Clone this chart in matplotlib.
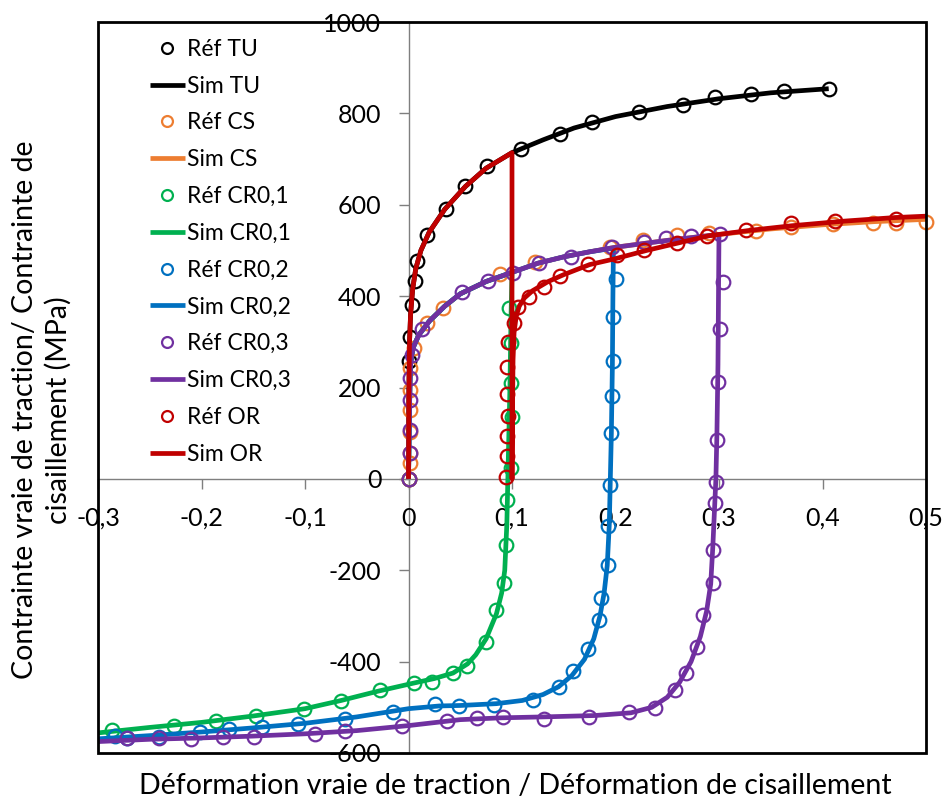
import matplotlib
matplotlib.use("Agg")
import matplotlib.pyplot as plt
from matplotlib.patches import Rectangle
from matplotlib.ticker import FuncFormatter

plt.rcParams['font.family'] = ['Lato', 'DejaVu Sans']

# ---------------- data ----------------
tu_ref_x = [0, 0.0003, 0.001, 0.0036, 0.0058, 0.0084, 0.018, 0.036, 0.0547, 0.0754, 0.1087,
            0.146, 0.177, 0.223, 0.265, 0.296, 0.331, 0.363, 0.406]
tu_ref_y = [0, 257, 311, 381, 433, 477, 534, 591, 641, 685, 721, 755, 782, 803, 819, 835, 842, 850, 853]

tu_sim_x = [0, 0.0003, 0.001, 0.002, 0.004, 0.007, 0.012, 0.02, 0.035, 0.055, 0.075, 0.1,
            0.13, 0.16, 0.2, 0.25, 0.3, 0.35, 0.406]
tu_sim_y = [0, 180, 300, 360, 415, 460, 500, 540, 590, 640, 680, 714, 742, 768, 793, 815, 832, 845, 854]

cs_ref_x = [0, 0.0013, 0.0019, 0.0013, 0.0013, 0.0013, 0.0019, 0.0052, 0.018, 0.0337, 0.088, 0.122,
            0.195, 0.227, 0.259, 0.29, 0.336, 0.37, 0.41, 0.449, 0.471, 0.5]
cs_ref_y = [0, 35, 57, 103, 151, 195, 243, 287, 341, 375, 448, 474, 508, 523, 534, 538, 543, 552,
            558, 561, 559, 562]

cs_sim_x = [0, 0.0005, 0.001, 0.0015, 0.002, 0.003, 0.005, 0.01, 0.02, 0.035, 0.05, 0.075, 0.1,
            0.125, 0.15, 0.175, 0.2, 0.25, 0.3, 0.35, 0.4, 0.45, 0.5]
cs_sim_y = [0, 80, 160, 220, 250, 270, 290, 315, 345, 378, 405, 432, 452, 472, 486, 497, 507, 522,
            535, 547, 556, 563, 568]

cr01_ref_x = [0.0974, 0.099, 0.099, 0.1, 0.099, 0.0951, 0.0942, 0.0925, 0.0845, 0.0748, 0.057,
              0.0434, 0.023, 0.005, -0.0272, -0.065, -0.1007, -0.1469, -0.1857, -0.2269, -0.2861]
cr01_ref_y = [375, 297, 209, 136, 24, -46, -144, -227, -287, -356, -409, -424, -444, -446, -463,
              -486, -504, -518, -531, -541, -549]

cr01_sim_x = [0, 0.0005, 0.001, 0.0015, 0.002, 0.003, 0.005, 0.01, 0.02, 0.035, 0.05, 0.075, 0.1,
              0.099, 0.098, 0.097, 0.096, 0.095, 0.093, 0.09, 0.085, 0.075, 0.065, 0.057, 0.043,
              0.025, 0.005, -0.03, -0.065, -0.1, -0.15, -0.2, -0.25, -0.3]
cr01_sim_y = [0, 80, 160, 220, 250, 270, 290, 315, 345, 378, 405, 432, 452,
              350, 200, 100, 0, -100, -200, -250, -295, -350, -385, -405, -425,
              -437, -447, -465, -485, -503, -519, -533, -544, -556]

cr02_ref_x = [0.2, 0.1977, 0.198, 0.197, 0.196, 0.195, 0.193, 0.193, 0.186, 0.184, 0.1735, 0.159,
              0.145, 0.12, 0.083, 0.049, 0.026, -0.0149, -0.0618, -0.107, -0.142, -0.1735, -0.201,
              -0.2415, -0.2716, -0.284]
cr02_ref_y = [438, 355, 258, 182, 101, -13, -104, -188, -261, -309, -373, -421, -456, -484, -496,
              -498, -492, -511, -525, -537, -543, -548, -554, -564, -567, -562]

cr02_sim_x = [0, 0.0005, 0.001, 0.0015, 0.002, 0.003, 0.005, 0.01, 0.02, 0.035, 0.05, 0.075, 0.1,
              0.125, 0.15, 0.175, 0.198, 0.1975, 0.197, 0.196, 0.195, 0.194, 0.192, 0.189, 0.185,
              0.179, 0.17, 0.158, 0.145, 0.13, 0.11, 0.085, 0.05, 0.03, 0.0, -0.05, -0.1, -0.15,
              -0.2, -0.25, -0.3]
cr02_sim_y = [0, 80, 160, 220, 250, 270, 290, 315, 345, 378, 405, 432, 452, 472, 486, 497, 505,
              400, 250, 100, 0, -100, -190, -250, -300, -350, -395, -430, -455, -472, -485, -492,
              -496, -497, -503, -521, -535, -545, -554, -562, -569]

cr03_ref_x = [0, 0.0019, 0.0019, 0.0019, 0.0019, 0.0036, 0.0133, 0.052, 0.0764, 0.1007, 0.126,
              0.157, 0.197, 0.228, 0.249, 0.273, 0.301,
              0.3036, 0.3013, 0.299, 0.2977, 0.297, 0.2958, 0.2939, 0.2939, 0.285, 0.2786, 0.268,
              0.2576, 0.238, 0.2133, 0.1745, 0.131, 0.091, 0.066, 0.0369, -0.0061, -0.0612,
              -0.0903, -0.1493, -0.179, -0.2104, -0.2408, -0.2721]
cr03_ref_y = [0, 57, 107, 173, 221, 271, 328, 409, 433, 450, 472, 486, 508, 519, 528, 532, 537,
              430, 327, 212, 85, -6, -53, -155, -228, -298, -367, -425, -462, -502, -511, -522,
              -526, -522, -524, -531, -541, -552, -558, -564, -566, -569, -567, -567]

cr03_sim_x = [0, 0.0005, 0.001, 0.0015, 0.002, 0.003, 0.005, 0.01, 0.02, 0.035, 0.05, 0.075, 0.1,
              0.125, 0.15, 0.175, 0.2, 0.25, 0.3, 0.2995, 0.299, 0.298, 0.297, 0.2958, 0.294,
              0.292, 0.288, 0.282, 0.273, 0.262, 0.25, 0.235, 0.215, 0.18, 0.13, 0.09, 0.05, 0.0,
              -0.05, -0.1, -0.15, -0.2, -0.25, -0.3]
cr03_sim_y = [0, 80, 160, 220, 250, 270, 290, 315, 345, 378, 405, 432, 452, 472, 486, 497, 507,
              522, 535, 400, 250, 100, 0, -60, -150, -230, -290, -345, -400, -445, -478, -500,
              -512, -518, -521, -523, -527, -540, -551, -558, -563, -567, -570, -575]

or_ref_x = [0.0942, 0.0951, 0.0951, 0.0958, 0.0951, 0.0951, 0.0958, 0.1022, 0.1055, 0.1168,
            0.1314, 0.146, 0.1735, 0.201, 0.228, 0.259, 0.288, 0.326, 0.37, 0.412, 0.471]
or_ref_y = [5, 49, 94, 138, 186, 244, 300, 342, 377, 397, 419, 444, 470, 490, 502, 517, 532, 545,
            559, 565, 569]

or_sim_x = [0, 0.0003, 0.001, 0.002, 0.004, 0.007, 0.012, 0.02, 0.035, 0.055, 0.075, 0.1, 0.1,
            0.1005, 0.101, 0.102, 0.104, 0.107, 0.112, 0.12, 0.135, 0.15, 0.175, 0.2, 0.23, 0.26,
            0.29, 0.33, 0.37, 0.42, 0.47, 0.5]
or_sim_y = [0, 180, 300, 360, 415, 460, 500, 540, 590, 640, 680, 714, 0, 150, 260, 320, 355, 378,
            396, 412, 432, 447, 469, 482, 500, 516, 532, 544, 554, 564, 572, 575]

series = [
    ("TU", tu_ref_x, tu_ref_y, tu_sim_x, tu_sim_y, "#000000"),
    ("CS", cs_ref_x, cs_ref_y, cs_sim_x, cs_sim_y, "#ED7D31"),
    ("CR0,1", cr01_ref_x, cr01_ref_y, cr01_sim_x, cr01_sim_y, "#00B050"),
    ("CR0,2", cr02_ref_x, cr02_ref_y, cr02_sim_x, cr02_sim_y, "#0070C0"),
    ("CR0,3", cr03_ref_x, cr03_ref_y, cr03_sim_x, cr03_sim_y, "#7030A0"),
    ("OR", or_ref_x, or_ref_y, or_sim_x, or_sim_y, "#C00000"),
]

x_ticks = [-0.3, -0.2, -0.1, 0, 0.1, 0.2, 0.3, 0.4, 0.5]
y_ticks = [-600, -400, -200, 0, 200, 400, 600, 800, 1000]

# ---------------- figure ----------------
fig = plt.figure(figsize=(9.47, 8), dpi=100)
ax = fig.add_axes([98 / 947, 47 / 800, 828 / 947, 731 / 800])
ax.set_xlim(-0.3, 0.5)
ax.set_ylim(-600, 1000)

z = 3
for name, rx, ry, sx, sy, col in series:
    ax.plot(rx, ry, linestyle='none', marker='o', markersize=9.8, markerfacecolor='none',
            markeredgecolor=col, markeredgewidth=1.6, label="Réf " + name, zorder=z,
            clip_on=False)
    z += 1
    ax.plot(sx, sy, color=col, linewidth=3.4, label="Sim " + name, zorder=z,
            solid_capstyle='butt', solid_joinstyle='round')
    z += 1

for s in ['top', 'right']:
    ax.spines[s].set_visible(False)
ax.spines['left'].set_position(('data', 0))
ax.spines['bottom'].set_position(('data', 0))
for s in ['left', 'bottom']:
    ax.spines[s].set_color('#7f7f7f')
    ax.spines[s].set_linewidth(1.0)
    ax.spines[s].set_zorder(1)

ax.set_xticks(x_ticks)
ax.set_yticks(y_ticks)
fmt = lambda v, p: ("%g" % round(v, 3)).replace('.', ',')
ax.xaxis.set_major_formatter(FuncFormatter(fmt))
ax.yaxis.set_major_formatter(FuncFormatter(lambda v, p: "%d" % v))
ax.tick_params(axis='both', direction='out', length=7.5, width=1.0, color='#7f7f7f',
               labelsize=18, labelcolor='black')
ax.tick_params(axis='x', pad=12.5)
ax.tick_params(axis='y', pad=12)

ax.add_patch(Rectangle((0, 0), 1, 1, transform=ax.transAxes, fill=False, edgecolor='black',
                       linewidth=2.0, clip_on=False, zorder=50))

leg = ax.legend(loc='upper left', bbox_to_anchor=(0.063, 0.977), frameon=False, fontsize=16.5,
                handlelength=1.5, handletextpad=0.1, labelspacing=0.69, borderpad=0,
                borderaxespad=0, markerscale=0.8, numpoints=1)

fig.text(42 / 947, 1 - 410 / 800,
         "Contrainte vraie de traction/ Contrainte de\ncisaillement (MPa)",
         rotation=90, ha='center', va='center', fontsize=20.5, linespacing=1.3,
         multialignment='center')
fig.text(515 / 947, 1 - 786 / 800,
         "Déformation vraie de traction / Déformation de cisaillement",
         ha='center', va='center', fontsize=20.5)

fig.savefig("out.png", dpi=100)
